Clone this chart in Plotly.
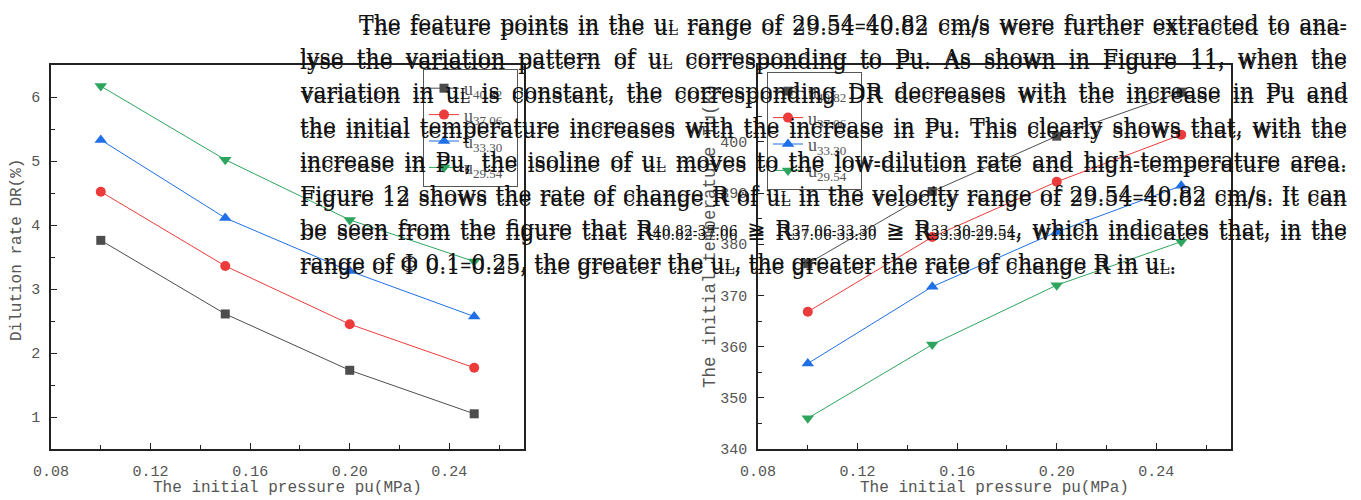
import json
import plotly.graph_objects as go

W, H = 1361, 500

# Initial pressure (MPa)
pressure = [0.10, 0.15, 0.20, 0.25]

# Series labels (flow velocity uL, cm/s)
series_names = ["40.82", "37.06", "33.30", "29.54"]

# Dilution rate DR (%)
dr_4082 = [3.76, 2.61, 1.73, 1.05]
dr_3706 = [4.52, 3.36, 2.45, 1.77]
dr_3330 = [5.33, 4.11, 3.28, 2.57]
dr_2954 = [6.17, 5.02, 4.08, 3.43]

# Initial temperature Tu (K)
tu_4082 = [376.2, 390.3, 401.1, 409.7]
tu_3706 = [366.8, 381.4, 392.2, 401.4]
tu_3330 = [356.7, 371.7, 382.4, 391.4]
tu_2954 = [346.0, 360.4, 372.0, 380.5]

x_ticks = [0.08, 0.12, 0.16, 0.20, 0.24]
dr_ticks = [1, 2, 3, 4, 5, 6]
tu_ticks = [340, 350, 360, 370, 380, 390, 400]

UL = 'u<span style="font-size:15px">L</span>'

def low(s):
    """Small index text used after R."""
    return f'<span style="font-size:14px">{s}</span>'

paragraph = [
    f"The feature points in the {UL} range of 29.54\u201340.82 cm/s were further extracted to ana-",
    f"lyse the variation pattern of {UL} corresponding to Pu. As shown in Figure 11, when the",
    f"variation in {UL} is constant, the corresponding DR decreases with the increase in Pu and",
    "the initial temperature increases with the increase in Pu. This clearly shows that, with the",
    f"increase in Pu, the isoline of {UL} moves to the low-dilution rate and high-temperature area.",
    f"Figure 12 shows the rate of change R of {UL} in the velocity range of 29.54\u201340.82 cm/s. It can",
    f"be seen from the figure that R{low('40.82-37.06')} \u2265 R{low('37.06-33.30')} \u2265 "
    f"R{low('33.30-29.54')}, which indicates that, in the",
    f"range of \u03a6 0.1\u20130.25, the greater the {UL}, the greater the rate of change R in {UL}.",
]

colors = ["#4d4d4d", "#ec3b3b", "#1f6fe6", "#2ea55e"]
symbols = ["square", "circle", "triangle-up", "triangle-down"]
msizes = [9, 10, 11, 11]

def fx(px):
    return px / W

def fy(py):
    return 1 - py / H

TOP, BOTTOM = 65, 449
L_X0, L_X1 = 51, 524
R_X0, R_X1 = 758, 1231

AX_FONT = dict(family="Liberation Mono", size=15, color="#555555")
TITLE_FONT = dict(family="Liberation Mono", size=16, color="#555555")

fig = go.Figure()

def legend_label(name):
    return f'u<sub><span style="font-size:13px">{name}</span></sub>\u00a0\u00a0'

dr_all = [dr_4082, dr_3706, dr_3330, dr_2954]
tu_all = [tu_4082, tu_3706, tu_3330, tu_2954]
for i, name in enumerate(series_names):
    fig.add_trace(go.Scatter(
        x=pressure, y=dr_all[i], mode="lines+markers",
        name=legend_label(name), legend="legend", legendgroup=f"l{i}",
        line=dict(color=colors[i], width=1),
        marker=dict(symbol=symbols[i], size=msizes[i], color=colors[i]),
        xaxis="x", yaxis="y",
    ))
for i, name in enumerate(series_names):
    fig.add_trace(go.Scatter(
        x=pressure, y=tu_all[i], mode="lines+markers",
        name=legend_label(name), legend="legend2", legendgroup=f"r{i}",
        line=dict(color=colors[i], width=1),
        marker=dict(symbol=symbols[i], size=msizes[i], color=colors[i]),
        xaxis="x2", yaxis="y2",
    ))

def xaxis_style(x0, x1, anchor):
    return dict(
        domain=[fx(x0), fx(x1)], anchor=anchor, range=[0.08, 0.27],
        tickvals=x_ticks, ticktext=[f"{v:.2f}" for v in x_ticks],
        ticks="inside", ticklen=6, tickwidth=1, tickcolor="#222222",
        minor=dict(ticks="inside", ticklen=4, tickvals=[0.10, 0.14, 0.18, 0.22, 0.26],
                   tickcolor="#222222"),
        showline=True, linecolor="#222222", linewidth=1.6, mirror=True,
        showgrid=False, zeroline=False, tickfont=AX_FONT, ticklabelstandoff=7,
        automargin=False,
    )

def yaxis_style(anchor, rng, vals, minor_vals):
    return dict(
        domain=[fy(BOTTOM), fy(TOP)], anchor=anchor, range=rng,
        tickvals=vals, ticks="inside", ticklen=6, tickwidth=1, tickcolor="#222222",
        minor=dict(ticks="inside", ticklen=4, tickvals=minor_vals, tickcolor="#222222"),
        showline=True, linecolor="#222222", linewidth=1.6, mirror=True,
        showgrid=False, zeroline=False, tickfont=AX_FONT, ticklabelstandoff=6,
        automargin=False,
    )

legend_common = dict(
    bgcolor="rgba(0,0,0,0)", bordercolor="#555555", borderwidth=1,
    font=dict(family="Liberation Serif", size=18, color="#555555"),
    xanchor="left", yanchor="top", tracegroupgap=0,
)

fig.update_layout(
    width=W, height=H, autosize=False,
    margin=dict(l=0, r=0, t=0, b=0, pad=0, autoexpand=False),
    paper_bgcolor="white", plot_bgcolor="white",
    xaxis=xaxis_style(L_X0, L_X1, "y"),
    yaxis=yaxis_style("x", [0.5, 6.5], dr_ticks, [1.5, 2.5, 3.5, 4.5, 5.5]),
    xaxis2=xaxis_style(R_X0, R_X1, "y2"),
    yaxis2=yaxis_style("x2", [340, 415], tu_ticks, [345, 355, 365, 375, 385, 395, 405]),
    legend=dict(x=fx(423), y=fy(69), **legend_common),
    legend2=dict(x=fx(767), y=fy(72), **legend_common),
)

# Axis titles
annotations = [
    dict(text="The initial pressure pu(MPa)", x=fx((L_X0 + L_X1) / 2), y=fy(488)),
    dict(text="The initial pressure pu(MPa)", x=fx((R_X0 + R_X1) / 2), y=fy(488)),
    dict(text="Dilution rate DR(%)", x=fx(17), y=fy(250), textangle=-90),
    dict(text="The initial temperature Tu(K)", x=fx(710), y=fy(236), textangle=-90,
         font=dict(family="Liberation Mono", size=17.5, color="#555555")),
]
for a in annotations:
    fig.add_annotation(xref="paper", yref="paper", showarrow=False,
                       xanchor="center", yanchor="middle",
                       font=a.pop("font", TITLE_FONT), **a)

# Body text overlaid on the figure, printed twice with a small vertical shift
TEXT_SIZE = 22
LEFT, RIGHT, INDENT = 298, 1345, 357
justify = {}
for k, line in enumerate(paragraph):
    baseline = 30 + 34.2 * k
    x0 = INDENT if k == 0 else LEFT
    for shift in (0, 4):
        idx = len(fig.layout.annotations)
        fig.add_annotation(
            text=line, xref="paper", yref="paper",
            x=fx(x0), y=fy(baseline + shift - 0.3 * TEXT_SIZE),
            xanchor="left", yanchor="middle", align="left", showarrow=False,
            font=dict(family="DejaVu Serif", size=TEXT_SIZE, color="#111111"),
        )
        if k < len(paragraph) - 1:
            justify[idx] = RIGHT - x0

post = """
var gd = document.getElementById('{plot_id}');
var targets = %s;
gd.querySelectorAll('g.annotation').forEach(function (g) {
  var idx = g.getAttribute('data-index');
  if (!(idx in targets)) return;
  var t = g.querySelector('text.annotation-text');
  if (!t) return;
  t.style.wordSpacing = '0px';
  var w0 = t.getComputedTextLength();
  var n = (t.textContent.match(/ /g) || []).length;
  if (!n) return;
  t.style.wordSpacing = ((targets[idx] - w0) / n) + 'px';
});
""" % json.dumps({str(k): v for k, v in justify.items()})

fig.write_html("out.html", post_script=post)
